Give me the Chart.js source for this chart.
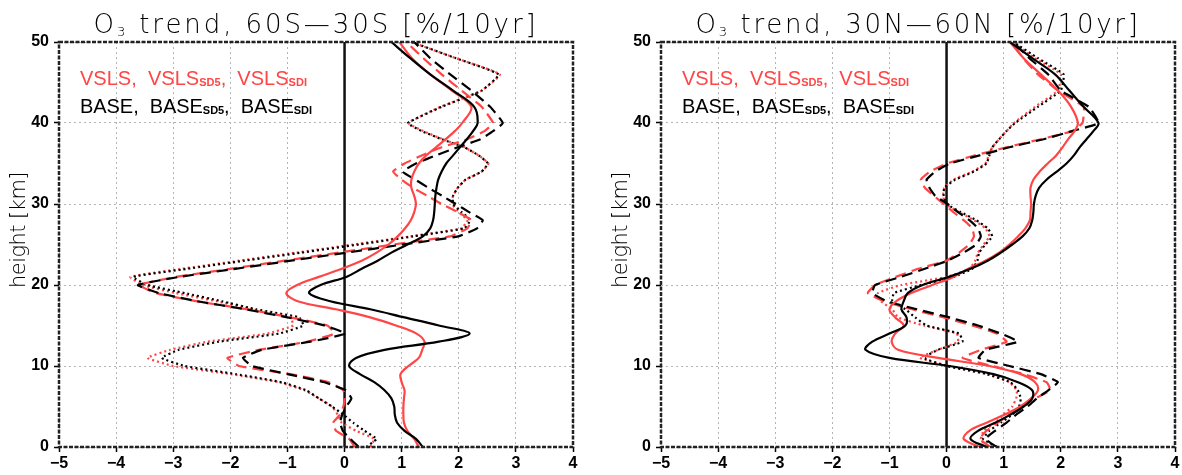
<!DOCTYPE html>
<html>
<head>
<meta charset="utf-8">
<script src="https://cdn.jsdelivr.net/npm/chart.js@4.4.1/dist/chart.umd.min.js"></script>
<style>
html, body { margin: 0; padding: 0; background: #fff; }
#wrap { position: relative; width: 1182px; height: 475px; }
.panel { position: absolute; top: 0; width: 591px; height: 475px; }
</style>
</head>
<body>
<div id="wrap">
  <div class="panel" style="left:0"><canvas id="south"></canvas></div>
  <div class="panel" style="left:591px"><canvas id="north"></canvas></div>
</div>
<script>
// model levels [km]
const heights = [0,1,2,3,4,5,6,7,8,9,10,11,12,13,14,15,16,17,18,19,20,21,22,23,24,25,26,27,28,29,30,31,32,33,34,35,36,37,38,39,40,42,44,46,48,50];

const xTicks = [-5,-4,-3,-2,-1,0,1,2,3,4];
const yTicks = [0,10,20,30,40,50];

// 60S-30S
const southBase = [1.37,1.25,1.05,0.92,0.88,0.87,0.82,0.70,0.52,0.27, 0.08,0.20,0.70,1.65,2.19,1.65,1.05,0.45,-0.25,-0.62, -0.42,0.03,0.30,0.58,0.82,1.10,1.37,1.50,1.55,1.57, 1.58,1.59,1.61,1.64,1.70,1.78,1.90,2.02,2.14,2.25, 2.33,2.27,1.90,1.50,1.15,0.82];
const southVsls = [1.30,1.22,1.10,1.04,1.03,1.03,1.04,1.05,1.00,0.98, 1.12,1.30,1.36,1.40,1.26,0.90,0.45,-0.15,-0.82,-1.02, -0.83,-0.45,-0.05,0.30,0.56,0.77,0.93,1.06,1.16,1.22, 1.25,1.22,1.17,1.17,1.22,1.30,1.43,1.60,1.77,1.93, 2.06,2.22,1.88,1.50,1.18,0.96];
const southBaseSd5 = [0.25,0.10,-0.03,-0.08,-0.04,0.03,0.12,0.02,-0.35,-1.00, -1.62,-1.78,-1.45,-0.60,0.02,-0.35,-1.00,-1.73,-2.58,-3.25, -3.62,-2.89,-1.91,-0.94,0.04,1.02,1.99,2.32,2.42,2.18, 1.95,1.71,1.47,1.24,1.02,1.25,1.60,1.98,2.38,2.60, 2.77,2.55,2.22,1.85,1.50,1.22];
const southVslsSd5 = [0.18,0.08,-0.15,-0.20,-0.08,-0.02,0.00,-0.02,-0.28,-0.95, -1.85,-2.05,-1.50,-0.65,-0.18,-0.30,-0.95,-1.70,-2.60,-3.30, -3.60,-2.95,-2.00,-1.05,-0.10,0.85,1.85,2.15,2.22,1.98, 1.70,1.45,1.20,1.00,0.85,1.05,1.35,1.70,2.15,2.45, 2.60,2.40,2.05,1.70,1.38,1.08];
const southBaseSdi = [0.38,0.56,0.35,0.15,-0.02,-0.22,-0.45,-0.67,-1.10,-1.90, -2.80,-3.20,-2.90,-2.20,-1.15,-0.72,-0.80,-1.55,-2.15,-2.80, -3.45,-3.70,-2.75,-1.75,-0.75,0.25,1.20,2.10,2.20,2.05, 1.90,1.90,1.98,2.12,2.40,2.51,2.35,2.10,1.70,1.35, 1.11,1.70,2.40,2.70,1.95,1.17];
const southVslsSdi = [0.45,0.52,0.20,-0.05,-0.12,-0.22,-0.45,-0.70,-1.15,-2.00, -3.00,-3.45,-3.05,-2.40,-1.35,-0.90,-0.95,-1.60,-2.25,-2.95, -3.55,-3.75,-2.85,-1.85,-0.85,0.15,1.15,2.05,2.15,2.00, 1.88,1.90,1.98,2.12,2.40,2.52,2.35,2.10,1.72,1.38, 1.12,1.68,2.40,2.72,1.95,1.17];

// 30N-60N
const northBase = [0.70,0.42,0.55,0.85,1.12,1.35,1.50,1.50,1.25,0.82, 0.05,-1.00,-1.42,-1.30,-1.00,-0.72,-0.70,-0.79,-0.75,-0.68, -0.42,0.04,0.42,0.72,0.95,1.15,1.33,1.45,1.50,1.52, 1.53,1.56,1.62,1.75,1.93,2.10,2.23,2.33,2.45,2.57, 2.66,2.40,2.15,1.90,1.50,1.11];
const northVsls = [0.58,0.30,0.40,0.70,1.02,1.29,1.48,1.60,1.55,1.30, 0.75,-0.15,-0.85,-0.96,-0.90,-0.75,-0.90,-1.00,-0.88,-0.62, -0.25,0.12,0.38,0.68,0.92,1.10,1.25,1.38,1.46,1.47, 1.48,1.47,1.47,1.52,1.63,1.77,1.92,2.03,2.13,2.24, 2.30,2.18,1.95,1.65,1.35,1.11];
const northBaseSd5 = [0.88,0.68,0.85,1.05,1.22,1.42,1.58,1.78,1.95,1.65, 1.10,0.56,0.68,1.25,0.95,0.55,0.05,-0.52,-1.05,-1.30, -1.25,-0.80,-0.38,0.02,0.30,0.52,0.60,0.55,0.40,0.20, 0.02,-0.20,-0.30,-0.35,-0.20,0.06,0.58,1.10,1.70,2.20, 2.66,2.49,2.00,1.78,1.45,1.17];
const northVslsSd5 = [0.77,0.58,0.70,0.90,1.10,1.32,1.55,1.82,1.75,1.35, 0.80,0.28,0.60,1.05,0.88,0.45,-0.05,-0.60,-1.10,-1.38, -1.25,-0.89,-0.50,0.00,0.22,0.40,0.48,0.45,0.30,0.12, -0.05,-0.22,-0.38,-0.45,-0.29,0.00,0.50,1.05,1.65,2.20, 2.38,2.40,1.95,1.60,1.34,1.14];
const northBaseSdi = [0.88,0.64,0.75,0.95,1.15,1.27,1.30,1.25,1.12,0.70, 0.00,-0.40,-0.15,0.28,0.22,-0.35,-0.55,-0.72,-0.95,-0.92, -0.45,0.12,0.45,0.54,0.57,0.68,0.80,0.72,0.52,0.25, 0.00,-0.05,-0.04,0.15,0.48,0.70,0.75,0.80,0.92,1.05, 1.20,1.60,2.00,2.05,1.60,1.17];
const northVslsSdi = [0.70,0.60,0.65,0.85,1.00,1.15,1.22,1.23,1.10,0.75, 0.05,-0.47,-0.15,0.20,0.18,-0.40,-0.85,-0.95,-1.15,-1.20, -0.80,0.00,0.40,0.50,0.55,0.65,0.75,0.68,0.48,0.22, -0.02,-0.06,-0.04,0.12,0.45,0.68,0.74,0.80,0.92,1.05, 1.18,1.55,1.95,2.00,1.55,1.15];

const RED = '#ff4545';
const BLACK = '#000000';
const tickFont = { family: '"Liberation Sans", Arial, sans-serif', size: 16, weight: 'bold' };
const thinFont = '200 {s}px "DejaVu Sans", "Liberation Sans", sans-serif';
const legendFont = '20px "Liberation Sans", Arial, sans-serif';
const subFont = 'bold 11px "Liberation Sans", Arial, sans-serif';

function profile(vals) {
  return heights.map((h, i) => ({ x: vals[i], y: h }));
}

function line(vals, color, style) {
  const ds = {
    data: profile(vals), borderColor: color, borderWidth: 2.2,
    showLine: true, pointRadius: 0, fill: false,
    tension: style === 'solid' ? 0.35 : 0.12, borderCapStyle: 'butt'
  };
  if (style === 'dash') ds.borderDash = [11, 6];
  if (style === 'dot') ds.borderDash = [2, 3];
  return ds;
}

// text with subscripts; spacing stretches letters to a given width
function richText(ctx, parts, x, y, main, sub, align, width) {
  ctx.save();
  let natural = 0, chars = 0;
  parts.forEach(p => {
    ctx.font = p.sub ? sub : main;
    p.w = ctx.measureText(p.t).width;
    natural += p.w; chars += p.t.length;
  });
  const sp = width ? (width - natural) / chars : 0;
  const total = natural + sp * chars;
  let cx = align === 'center' ? x - total / 2 : x;
  parts.forEach(p => {
    ctx.font = p.sub ? sub : main;
    ctx.letterSpacing = sp.toFixed(2) + 'px';
    ctx.fillText(p.t, cx, p.sub ? y + (p.drop || 1) : y);
    cx += p.w + sp * p.t.length;
  });
  ctx.restore();
}

const decor = {
  id: 'decor',
  beforeDatasetsDraw(chart) {
    const { ctx, chartArea: a, scales } = chart;
    const x0 = scales.x.getPixelForValue(0);
    ctx.save();
    ctx.strokeStyle = '#111';
    ctx.lineWidth = 2.5;
    ctx.beginPath(); ctx.moveTo(x0, a.top); ctx.lineTo(x0, a.bottom); ctx.stroke();
    ctx.restore();
  },
  afterDatasetsDraw(chart) {
    const { ctx, chartArea: a } = chart;
    ctx.save();
    ctx.strokeStyle = '#222';
    ctx.lineWidth = 2.5;
    ctx.setLineDash([4, 1.5]);
    ctx.strokeRect(a.left, a.top, a.right - a.left, a.bottom - a.top);
    ctx.restore();
  },
  afterDraw(chart) {
    const { ctx, chartArea: a } = chart;
    const o = chart.options.plugins.decor;
    ctx.save();
    ctx.textBaseline = 'alphabetic';
    ctx.fillStyle = '#000';
    richText(ctx, [{ t: 'O' }, { t: '3', sub: true, drop: 3 }, { t: ' trend, ' + o.region + ' [%/10yr]' }],
      (a.left + a.right) / 2, 33, thinFont.replace('{s}', 26), thinFont.replace('{s}', 13), 'center', 445);
    ctx.fillStyle = RED;
    richText(ctx, [{ t: 'VSLS,  VSLS' }, { t: 'SD5', sub: true }, { t: ',  VSLS' }, { t: 'SDI', sub: true }],
      a.left + 21, 85, legendFont, subFont, 'left', 227);
    ctx.fillStyle = BLACK;
    richText(ctx, [{ t: 'BASE,  BASE' }, { t: 'SD5', sub: true }, { t: ',  BASE' }, { t: 'SDI', sub: true }],
      a.left + 21, 113, legendFont, subFont, 'left', 232);
    ctx.translate(o.yTitleX, 230);
    ctx.rotate(-Math.PI / 2);
    ctx.fillStyle = '#000';
    ctx.textBaseline = 'middle';
    richText(ctx, [{ t: 'height [km]' }], 0, 0, thinFont.replace('{s}', 21), thinFont.replace('{s}', 12), 'center', 116);
    ctx.restore();
  }
};

function axisNum(v) {
  return v < 0 ? '\u2212' + Math.abs(v) : String(v);
}

function makeChart(id, series, region, axisWidth, padRight, yTitleX) {
  const grid = { color: '#b4b4b4', lineWidth: 1, tickLength: 5, tickColor: '#000', tickWidth: 1.5 };
  new Chart(document.getElementById(id), {
    type: 'scatter',
    data: {
      datasets: [
        line(series.base, BLACK, 'solid'),
        line(series.vsls, RED, 'solid'),
        line(series.baseSd5, BLACK, 'dash'),
        line(series.vslsSd5, RED, 'dash'),
        line(series.baseSdi, BLACK, 'dot'),
        line(series.vslsSdi, RED, 'dot')
      ]
    },
    options: {
      responsive: true,
      maintainAspectRatio: false,
      animation: false,
      layout: { padding: { top: 42, right: padRight, left: 0, bottom: 0 } },
      scales: {
        x: {
          type: 'linear', min: xTicks[0], max: xTicks[xTicks.length - 1],
          afterBuildTicks: s => { s.ticks = xTicks.map(v => ({ value: v })); },
          ticks: { font: tickFont, color: '#000', padding: 2, maxRotation: 0, autoSkip: false, callback: axisNum },
          grid: grid,
          border: { display: false, dash: [2, 3] },
          afterFit: s => { s.height = 28; }
        },
        y: {
          type: 'linear', min: yTicks[0], max: yTicks[yTicks.length - 1],
          afterBuildTicks: s => { s.ticks = yTicks.map(v => ({ value: v })); },
          ticks: { font: tickFont, color: '#000', padding: 5, callback: axisNum },
          grid: grid,
          border: { display: false, dash: [2, 3] },
          afterFit: s => { s.width = axisWidth; }
        }
      },
      plugins: {
        legend: { display: false },
        tooltip: { enabled: false },
        decor: { region: region, yTitleX: yTitleX }
      }
    },
    plugins: [decor]
  });
}

makeChart('south', {
  base: southBase, vsls: southVsls, baseSd5: southBaseSd5,
  vslsSd5: southVslsSd5, baseSdi: southBaseSdi, vslsSdi: southVslsSdi
}, '60S\u201430S', 59, 18, 20);

makeChart('north', {
  base: northBase, vsls: northVsls, baseSd5: northBaseSd5,
  vslsSd5: northVslsSd5, baseSdi: northBaseSdi, vslsSdi: northVslsSdi
}, '30N\u201460N', 70, 7, 31);
</script>
</body>
</html>
